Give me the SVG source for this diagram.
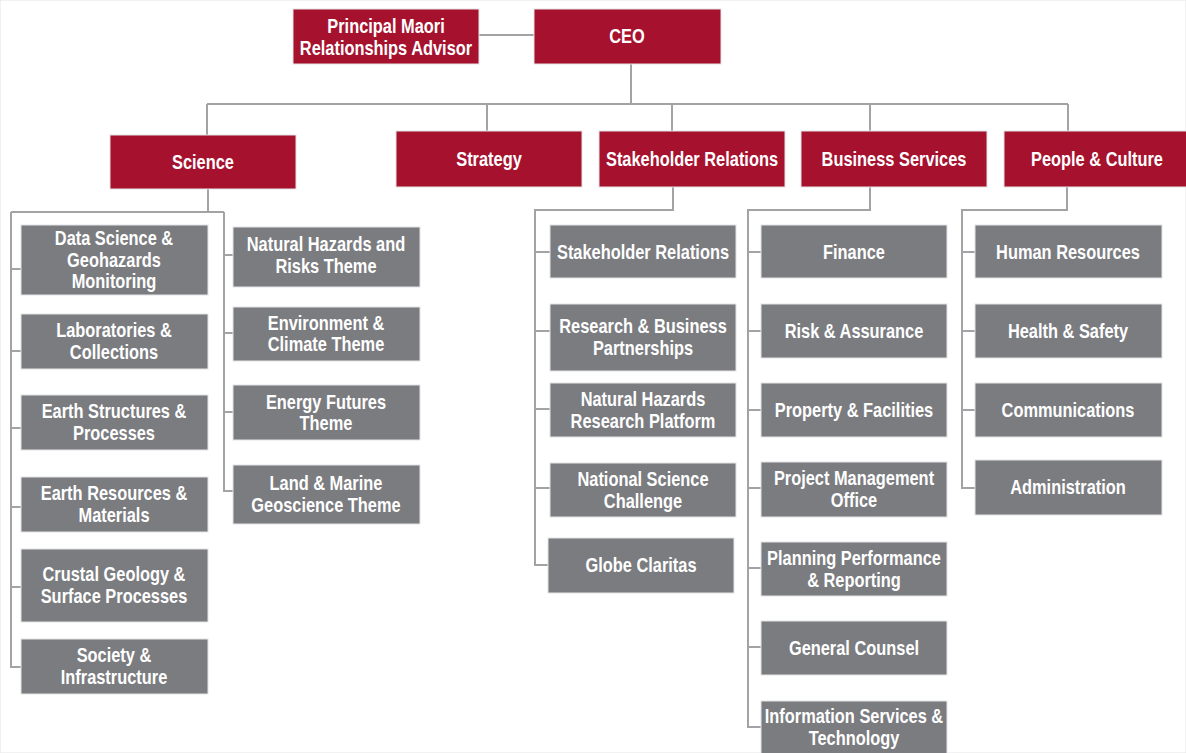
<svg xmlns="http://www.w3.org/2000/svg" width="1186" height="753" viewBox="0 0 1186 753">
<style>
.r{fill:#a6112e}
.g{fill:#7b7c80}
rect{stroke:#e4e4e6;stroke-width:1}
text{font-family:"Liberation Sans",Arial,sans-serif;font-weight:bold;font-size:20px;fill:#ffffff;text-anchor:middle}
#connectors path{fill:none;stroke:#a3a3a5;stroke-width:2}
</style>
<rect width="1186" height="753" fill="#ffffff" stroke="none"/>
<g id="connectors">
<path d="M479,35 H534"/>
<path d="M631,64 V104 M207,104 H1068 M207,104 V135 M487,104 V131 M672,104 V131 M870,104 V131 M1068,104 V131"/>
<path d="M208,189 V212 M11,212 H224 M11,212 V667 H21 M224,212 V491 H233"/>
<path d="M11,269 H21 M11,351 H21 M11,428 H21 M11,507 H21 M11,587 H21"/>
<path d="M224,255 H233 M224,333 H233 M224,412 H233"/>
<path d="M673,187 V210 H535 V565 H548 M535,252 H550 M535,331 H550 M535,409 H550 M535,488 H550"/>
<path d="M870,187 V210 H748 V727 H761 M748,252 H761 M748,331 H761 M748,410 H761 M748,488 H761 M748,568 H761 M748,647 H761"/>
<path d="M1067,187 V210 H962 V488 H975 M962,252 H975 M962,331 H975 M962,410 H975"/>
</g>
<g id="principal"><rect class="r" x="293" y="9" width="186" height="55"/><g transform="matrix(0.82 0 0 1 69.48 0)"><text x="386" y="33">Principal Maori</text><text x="386" y="55">Relationships Advisor</text></g></g>
<g id="ceo"><rect class="r" x="534" y="9" width="187" height="55"/><g transform="matrix(0.82 0 0 1 112.86 0)"><text x="627" y="43">CEO</text></g></g>
<g id="science"><rect class="r" x="110" y="135" width="186" height="54"/><g transform="matrix(0.82 0 0 1 36.54 0)"><text x="203" y="169">Science</text></g></g>
<g id="strategy"><rect class="r" x="396" y="131" width="186" height="56"/><g transform="matrix(0.82 0 0 1 88.02 0)"><text x="489" y="166">Strategy</text></g></g>
<g id="stakeholder-relations"><rect class="r" x="599" y="131" width="186" height="56"/><g transform="matrix(0.82 0 0 1 124.56 0)"><text x="692" y="166">Stakeholder Relations</text></g></g>
<g id="business-services"><rect class="r" x="801" y="131" width="186" height="56"/><g transform="matrix(0.82 0 0 1 160.92 0)"><text x="894" y="166">Business Services</text></g></g>
<g id="people-culture"><rect class="r" x="1004" y="131" width="183" height="56"/><g transform="matrix(0.82 0 0 1 197.46 0)"><text x="1097" y="166">People &amp; Culture</text></g></g>

<g id="data-science"><rect class="g" x="21" y="225" width="187" height="70"/><g transform="matrix(0.82 0 0 1 20.52 0)"><text x="114" y="245">Data Science &amp;</text><text x="114" y="267">Geohazards</text><text x="114" y="288">Monitoring</text></g></g>
<g id="laboratories"><rect class="g" x="21" y="314" width="187" height="55"/><g transform="matrix(0.82 0 0 1 20.52 0)"><text x="114" y="337">Laboratories &amp;</text><text x="114" y="359">Collections</text></g></g>
<g id="earth-structures"><rect class="g" x="21" y="395" width="187" height="55"/><g transform="matrix(0.82 0 0 1 20.52 0)"><text x="114" y="418">Earth Structures &amp;</text><text x="114" y="440">Processes</text></g></g>
<g id="earth-resources"><rect class="g" x="21" y="477" width="187" height="55"/><g transform="matrix(0.82 0 0 1 20.52 0)"><text x="114" y="500">Earth Resources &amp;</text><text x="114" y="522">Materials</text></g></g>
<g id="crustal-geology"><rect class="g" x="21" y="549" width="187" height="73"/><g transform="matrix(0.82 0 0 1 20.52 0)"><text x="114" y="581">Crustal Geology &amp;</text><text x="114" y="603">Surface Processes</text></g></g>
<g id="society"><rect class="g" x="21" y="639" width="187" height="55"/><g transform="matrix(0.82 0 0 1 20.52 0)"><text x="114" y="662">Society &amp;</text><text x="114" y="684">Infrastructure</text></g></g>

<g id="natural-hazards-theme"><rect class="g" x="233" y="227" width="187" height="60"/><g transform="matrix(0.82 0 0 1 58.68 0)"><text x="326" y="251">Natural Hazards and</text><text x="326" y="273">Risks Theme</text></g></g>
<g id="environment-theme"><rect class="g" x="233" y="307" width="187" height="54"/><g transform="matrix(0.82 0 0 1 58.68 0)"><text x="326" y="330">Environment &amp;</text><text x="326" y="351">Climate Theme</text></g></g>
<g id="energy-theme"><rect class="g" x="233" y="385" width="187" height="55"/><g transform="matrix(0.82 0 0 1 58.68 0)"><text x="326" y="409">Energy Futures</text><text x="326" y="430">Theme</text></g></g>
<g id="land-marine-theme"><rect class="g" x="233" y="465" width="187" height="59"/><g transform="matrix(0.82 0 0 1 58.68 0)"><text x="326" y="490">Land &amp; Marine</text><text x="326" y="512">Geoscience Theme</text></g></g>

<g id="sr-stakeholder"><rect class="g" x="550" y="225" width="186" height="53"/><g transform="matrix(0.82 0 0 1 115.74 0)"><text x="643" y="259">Stakeholder Relations</text></g></g>
<g id="sr-research"><rect class="g" x="550" y="304" width="186" height="67"/><g transform="matrix(0.82 0 0 1 115.74 0)"><text x="643" y="333">Research &amp; Business</text><text x="643" y="355">Partnerships</text></g></g>
<g id="sr-nhrp"><rect class="g" x="550" y="383" width="186" height="54"/><g transform="matrix(0.82 0 0 1 115.74 0)"><text x="643" y="406">Natural Hazards</text><text x="643" y="428">Research Platform</text></g></g>
<g id="sr-nsc"><rect class="g" x="550" y="463" width="186" height="54"/><g transform="matrix(0.82 0 0 1 115.74 0)"><text x="643" y="486">National Science</text><text x="643" y="508">Challenge</text></g></g>
<g id="sr-globe"><rect class="g" x="548" y="538" width="186" height="55"/><g transform="matrix(0.82 0 0 1 115.38 0)"><text x="641" y="572">Globe Claritas</text></g></g>

<g id="bs-finance"><rect class="g" x="761" y="225" width="186" height="53"/><g transform="matrix(0.82 0 0 1 153.72 0)"><text x="854" y="259">Finance</text></g></g>
<g id="bs-risk"><rect class="g" x="761" y="304" width="186" height="54"/><g transform="matrix(0.82 0 0 1 153.72 0)"><text x="854" y="338">Risk &amp; Assurance</text></g></g>
<g id="bs-property"><rect class="g" x="761" y="383" width="186" height="54"/><g transform="matrix(0.82 0 0 1 153.72 0)"><text x="854" y="417">Property &amp; Facilities</text></g></g>
<g id="bs-pmo"><rect class="g" x="761" y="462" width="186" height="55"/><g transform="matrix(0.82 0 0 1 153.72 0)"><text x="854" y="485">Project Management</text><text x="854" y="507">Office</text></g></g>
<g id="bs-planning"><rect class="g" x="761" y="542" width="186" height="54"/><g transform="matrix(0.82 0 0 1 153.72 0)"><text x="854" y="565">Planning Performance</text><text x="854" y="587">&amp; Reporting</text></g></g>
<g id="bs-counsel"><rect class="g" x="761" y="621" width="186" height="54"/><g transform="matrix(0.82 0 0 1 153.72 0)"><text x="854" y="655">General Counsel</text></g></g>
<g id="bs-ist"><rect class="g" x="761" y="701" width="186" height="60"/><g transform="matrix(0.82 0 0 1 153.72 0)"><text x="854" y="723">Information Services &amp;</text><text x="854" y="745">Technology</text></g></g>

<g id="pc-hr"><rect class="g" x="975" y="225" width="187" height="53"/><g transform="matrix(0.82 0 0 1 192.24 0)"><text x="1068" y="259">Human Resources</text></g></g>
<g id="pc-hs"><rect class="g" x="975" y="304" width="187" height="54"/><g transform="matrix(0.82 0 0 1 192.24 0)"><text x="1068" y="338">Health &amp; Safety</text></g></g>
<g id="pc-comms"><rect class="g" x="975" y="383" width="187" height="54"/><g transform="matrix(0.82 0 0 1 192.24 0)"><text x="1068" y="417">Communications</text></g></g>
<g id="pc-admin"><rect class="g" x="975" y="460" width="187" height="55"/><g transform="matrix(0.82 0 0 1 192.24 0)"><text x="1068" y="494">Administration</text></g></g>
</svg>
